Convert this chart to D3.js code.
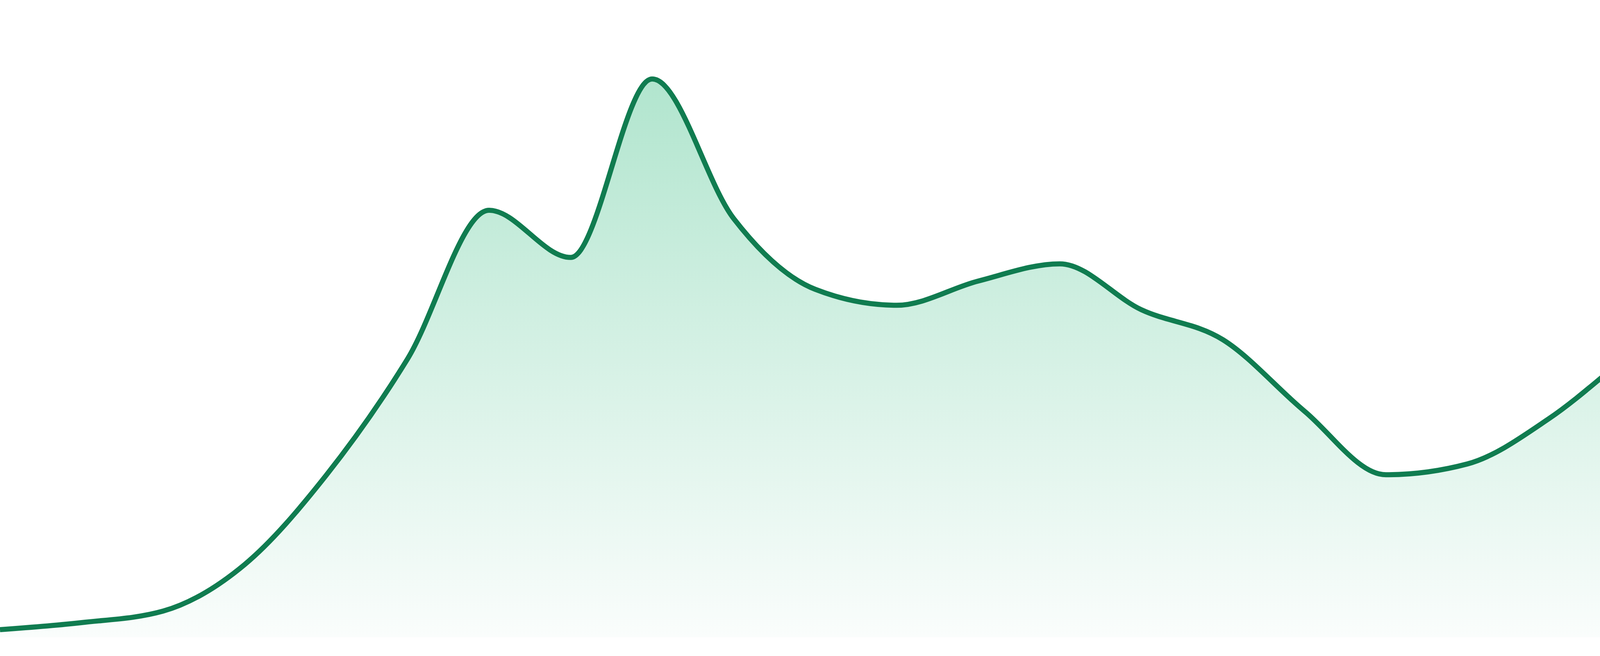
<!DOCTYPE html>
<html>
<head>
<meta charset="utf-8">
<script src="https://cdn.jsdelivr.net/npm/d3@7"></script>
<style>
  html, body { margin: 0; padding: 0; background: #fff; }
  svg { display: block; }
</style>
</head>
<body>
<script>
// sample index along the x axis (evenly spaced)
const steps = d3.range(24);
// series values
const values = [1.2, 2.3, 4.1, 11.4, 25.4, 43.7, 67.0, 59.6, 87.6, 65.7, 54.6, 52.1,
                55.9, 58.6, 51.4, 46.7, 35.5, 25.5, 27.2, 34.3, 44.5, 54.7, 45.2, 37.3];
const yMax = 100;

const width = 4800, height = 1680, baseY = 1632;

const data = steps.map((s, i) => ({step: s, value: values[i]}));

const svg = d3.select("body").append("svg")
  .attr("width", width)
  .attr("height", height);

const x = d3.scaleLinear()
  .domain(d3.extent(steps))
  .range([0, width]);

const y = d3.scaleLinear()
  .domain([0, yMax])
  .range([baseY, 0]);

const grad = svg.append("defs").append("linearGradient")
  .attr("id", "fillGrad")
  .attr("gradientUnits", "userSpaceOnUse")
  .attr("x1", 0).attr("x2", 0)
  .attr("y1", y(d3.max(values)))
  .attr("y2", baseY);
grad.append("stop").attr("offset", 0).attr("stop-color", "#b1e5ce");
grad.append("stop").attr("offset", 1).attr("stop-color", "#fafdfc");

const area = d3.area()
  .x(d => x(d.step))
  .y0(baseY)
  .y1(d => y(d.value))
  .curve(d3.curveMonotoneX);

const line = d3.line()
  .x(d => x(d.step))
  .y(d => y(d.value))
  .curve(d3.curveMonotoneX);

svg.append("path")
  .datum(data)
  .attr("d", area)
  .attr("fill", "url(#fillGrad)");

svg.append("path")
  .datum(data)
  .attr("d", line)
  .attr("fill", "none")
  .attr("stroke", "#107c50")
  .attr("stroke-width", 13)
  .attr("stroke-linejoin", "round");
</script>
</body>
</html>
